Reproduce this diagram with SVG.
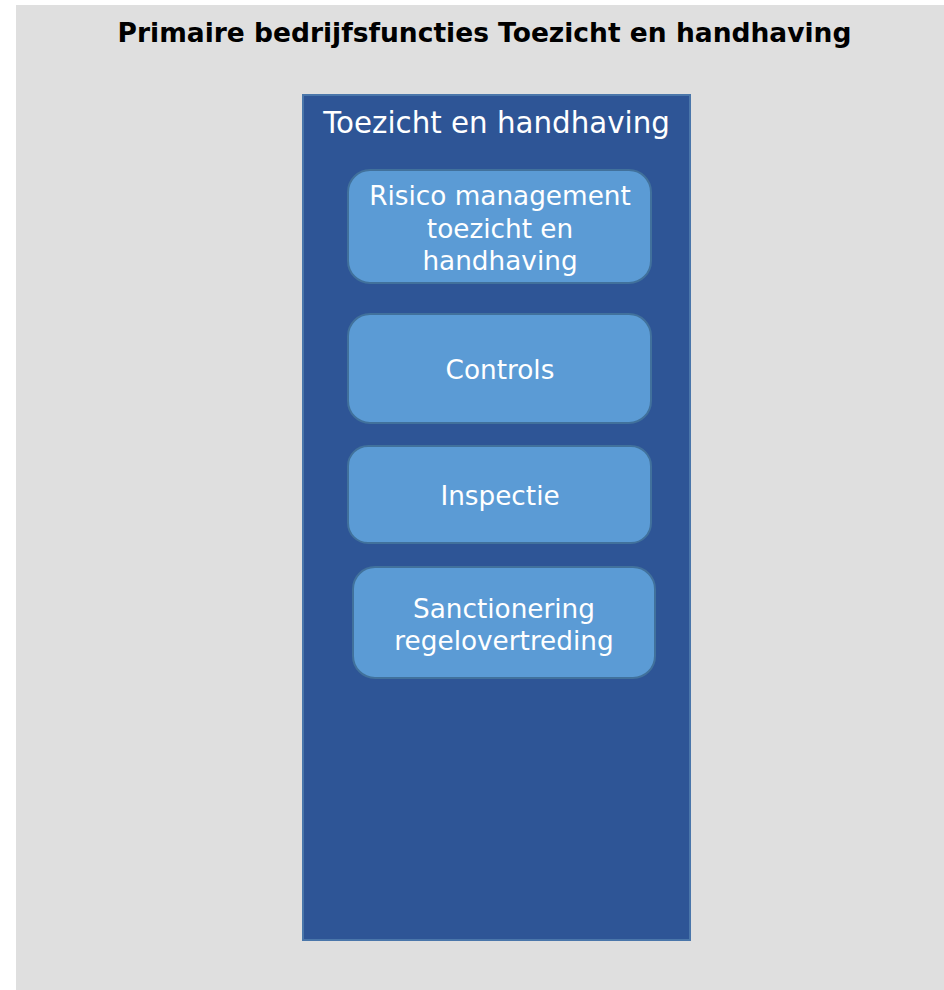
<svg xmlns="http://www.w3.org/2000/svg" width="944" height="990" viewBox="0 0 944 990">
<style>
.t{font-family:"DejaVu Sans","Verdana",sans-serif;fill:#ffffff;text-anchor:middle;font-size:26.3px}
.box{fill:#5b9bd5;stroke:#41719c;stroke-width:2}
</style>
<rect x="0" y="0" width="944" height="990" fill="#ffffff"/>
<rect x="16" y="5" width="928" height="985" fill="#dfdfdf"/>
<text x="484.5" y="42" font-family="DejaVu Sans, Verdana, sans-serif" font-weight="bold" font-size="26.5" text-anchor="middle" fill="#000000">Primaire bedrijfsfuncties Toezicht en handhaving</text>
<g id="container">
<rect x="303" y="95" width="387" height="845" fill="#2e5596" stroke="#4a76aa" stroke-width="2"/>
<text class="t" x="496.5" y="133" style="font-size:29.3px">Toezicht en handhaving</text>
</g>
<g id="risico">
<rect class="box" x="348" y="170" width="303" height="113" rx="22"/>
<text class="t" x="500" y="205">Risico management</text>
<text class="t" x="500" y="238">toezicht en</text>
<text class="t" x="500" y="270">handhaving</text>
</g>
<g id="controls">
<rect class="box" x="348" y="314" width="303" height="109" rx="22"/>
<text class="t" x="500" y="379">Controls</text>
</g>
<g id="inspectie">
<rect class="box" x="348" y="446" width="303" height="97" rx="20"/>
<text class="t" x="500" y="505">Inspectie</text>
</g>
<g id="sanctionering">
<rect class="box" x="353" y="567" width="302" height="111" rx="22"/>
<text class="t" x="504" y="618">Sanctionering</text>
<text class="t" x="504" y="650">regelovertreding</text>
</g>
<g id="connectors"></g>
</svg>
